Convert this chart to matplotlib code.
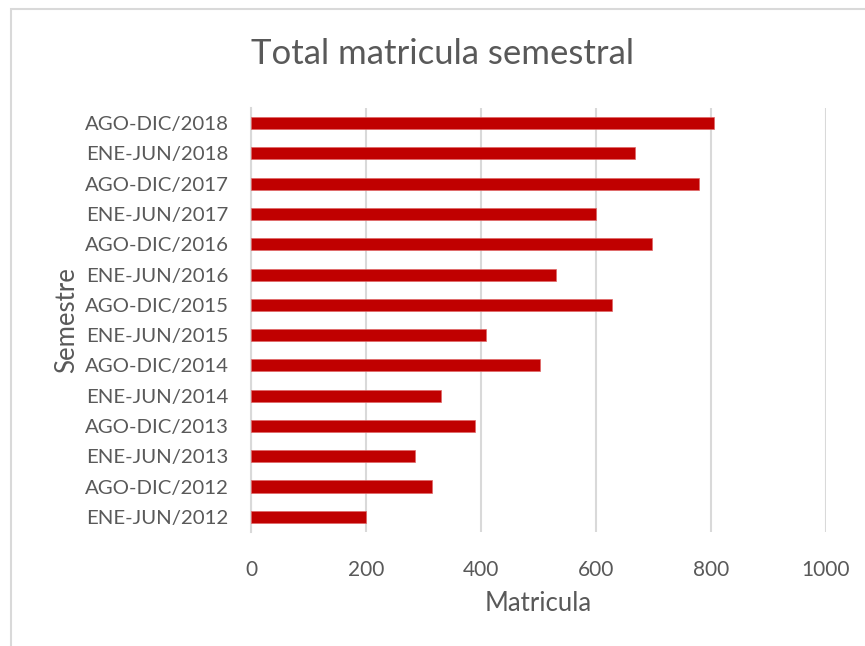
import matplotlib
matplotlib.use("Agg")

import matplotlib.pyplot as plt
from matplotlib.patches import Rectangle

# semesters, bottom to top
semestres = [
    "ENE-JUN/2012", "AGO-DIC/2012",
    "ENE-JUN/2013", "AGO-DIC/2013",
    "ENE-JUN/2014", "AGO-DIC/2014",
    "ENE-JUN/2015", "AGO-DIC/2015",
    "ENE-JUN/2016", "AGO-DIC/2016",
    "ENE-JUN/2017", "AGO-DIC/2017",
    "ENE-JUN/2018", "AGO-DIC/2018",
]
matricula = [200, 314, 286, 389, 330, 502, 409, 627, 531, 698, 600, 780, 668, 806]
x_ticks = [0, 200, 400, 600, 800, 1000]

plt.rcParams["font.family"] = ["Lato", "DejaVu Sans"]
gris = "#595959"
linea = "#D9D9D9"

fig = plt.figure(figsize=(8.65, 6.46), dpi=100)
ax = fig.add_axes([0.2902, 0.1765, 0.6647, 0.6563])

ax.barh(range(len(semestres)), matricula, height=0.4, color="#C00000",
        edgecolor="#E06666", linewidth=0.5, zorder=3)

ax.set_xlim(0, 1000)
ax.set_ylim(-0.5, len(semestres) - 0.5)
ax.set_xticks(x_ticks)
ax.set_xticklabels([str(t) for t in x_ticks])
ax.set_yticks(range(len(semestres)))
ax.set_yticklabels(semestres)

ax.grid(axis="x", color=linea, linewidth=1.5, zorder=0)
for s in ["top", "right", "bottom"]:
    ax.spines[s].set_visible(False)
ax.spines["left"].set_color(linea)
ax.spines["left"].set_linewidth(1.5)

ax.tick_params(axis="both", length=0, labelcolor=gris)
ax.tick_params(axis="x", pad=20, labelsize=15)
ax.tick_params(axis="y", pad=16, labelsize=14.7)

ax.set_xlabel("Matricula", color=gris, fontsize=18.5, labelpad=8)
ax.set_ylabel("Semestre", color=gris, fontsize=18.5, labelpad=4)

fig.text(0.512, 0.917, "Total matricula semestral", ha="center", va="center",
         color=gris, fontsize=25)

# chart border (cropped on right/bottom)
fig.patches.append(Rectangle((11 / 865, -0.1), 1.2, 1 - 9 / 646 + 0.1,
                             transform=fig.transFigure, fill=False,
                             edgecolor=linea, linewidth=1.5))

plt.savefig("out.png", dpi=100)
plt.close()
